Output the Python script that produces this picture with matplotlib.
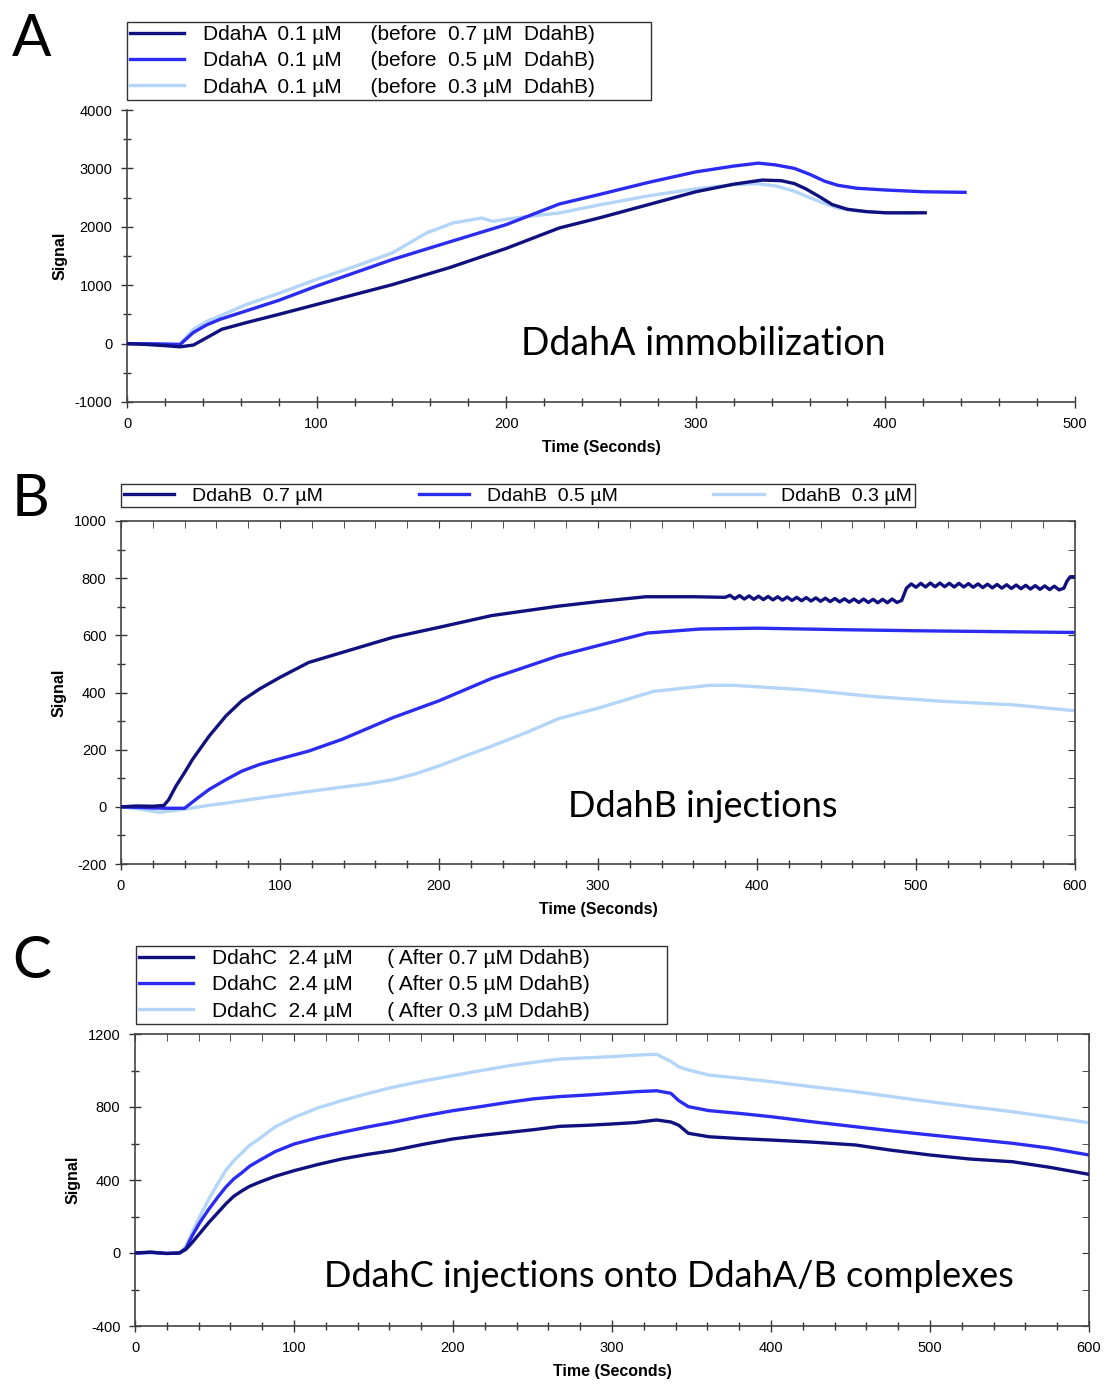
import numpy as np
import matplotlib
matplotlib.use("Agg")
import matplotlib.pyplot as plt
from matplotlib.ticker import MultipleLocator

plt.rcParams['font.family'] = ['Liberation Sans', 'DejaVu Sans']
plt.rcParams['axes.unicode_minus'] = False

DARK = "#10107e"
BLUE = "#2c2cf0"
LIGHT = "#b3d5f8"

# ---- panel A : DdahA immobilization
a_dark_t = [0, 10, 20, 28, 35, 42, 50, 63, 80, 100, 140, 170, 200, 228, 250, 275, 300, 320, 335, 345, 352, 358, 365, 372, 380, 390, 400, 410, 421]
a_dark_v = [0, -15, -35, -55, -25, 100, 245, 360, 500, 670, 1010, 1300, 1630, 1980, 2160, 2380, 2600, 2730, 2800, 2790, 2740, 2650, 2520, 2380, 2300, 2260, 2240, 2240, 2240]
a_blue_t = [0, 15, 28, 35, 42, 49, 60, 80, 100, 140, 170, 200, 228, 250, 275, 300, 320, 333, 342, 352, 360, 368, 375, 385, 400, 420, 442]
a_blue_v = [0, -5, -15, 190, 320, 415, 530, 740, 985, 1440, 1740, 2037, 2390, 2560, 2760, 2940, 3040, 3090, 3060, 3000, 2900, 2780, 2710, 2660, 2630, 2600, 2590]
a_light_t = [0, 15, 28, 35, 42, 49, 63, 80, 100, 120, 140, 158, 172, 180, 187, 193, 200, 215, 228, 250, 275, 300, 320, 332, 342, 352, 360, 368, 375, 385, 400, 415]
a_light_v = [0, -5, -10, 245, 380, 472, 670, 860, 1100, 1320, 1554, 1895, 2066, 2110, 2150, 2094, 2130, 2190, 2237, 2380, 2530, 2650, 2720, 2740, 2700, 2610, 2500, 2400, 2320, 2270, 2240, 2230]
a_labels = ["DdahA  0.1 µM     (before  0.7 µM  DdahB)",
            "DdahA  0.1 µM     (before  0.5 µM  DdahB)",
            "DdahA  0.1 µM     (before  0.3 µM  DdahB)"]

# ---- panel B : DdahB injections
b_dark_t = [0, 10, 20, 27, 30, 34.5, 40, 45, 55.5, 66, 76, 87, 100, 118, 139, 171, 200, 233, 275, 300, 330, 360, 380,
            383, 386, 389, 392, 395, 398, 401, 404, 407, 410, 413, 416, 419, 422, 425, 428, 431, 434, 437, 440, 443, 446,
            449, 452, 455, 458, 461, 464, 467, 470, 473, 476, 479, 482, 485, 488,
            491, 494, 497, 500, 503, 506, 509, 512, 515, 518, 521, 524, 527, 530, 533, 536, 539, 542, 545, 548, 551, 554,
            557, 560, 563, 566, 569, 572, 575, 578, 581, 584, 587, 590, 593, 595, 597, 600]
b_dark_v = [0, 3, 2, 5, 25, 72, 120, 166, 248, 318, 371, 412, 453, 505, 540, 593, 628, 669, 702, 718, 735, 735, 733,
            740, 728, 739, 727, 738, 726, 737, 725, 736, 724, 735, 723, 734, 722, 733, 721, 732, 720, 731, 719, 730, 718,
            729, 717, 728, 716, 727, 715, 727, 715, 726, 714, 726, 714, 727, 715,
            722, 765, 780, 768, 782, 769, 783, 770, 783, 770, 782, 769, 782, 769, 781, 768, 780, 767, 779, 766, 778, 765,
            777, 764, 776, 763, 775, 762, 774, 761, 773, 760, 772, 759, 765, 790, 805, 805]
b_blue_t = [0, 10, 20, 30, 40, 48, 55.5, 66, 76, 87, 100, 118, 139, 171, 200, 233, 275, 300, 331, 364, 400, 451, 500, 550, 600]
b_blue_v = [0, -2, -4, -5, -5, 30, 61, 95, 125, 148, 168, 195, 236, 312, 371, 449, 528, 564, 608, 622, 625, 620, 616, 613, 610]
b_light_t = [0, 12, 24, 35, 45, 55, 66, 83, 100, 120, 139, 155, 171, 185, 200, 215, 233, 255, 275, 300, 335, 370, 385, 429, 473, 517, 561, 600]
b_light_v = [0, -8, -19, -12, -4, 5, 13, 27, 40, 55, 69, 80, 95, 115, 143, 175, 212, 260, 308, 345, 404, 425, 425, 410, 386, 369, 357, 336]
b_labels = ["DdahB  0.7 µM", "DdahB  0.5 µM", "DdahB  0.3 µM"]

# ---- panel C : DdahC injections
c_t = [0, 10, 20, 28, 32, 36, 41, 46.5, 52, 57, 62, 67.5, 72, 78, 88, 100, 115, 130, 146, 162, 181, 200, 218, 235, 251,
       267, 285, 300, 315, 328, 337, 342, 348, 361, 380, 400, 425, 453, 475, 500, 525, 552, 575, 600]
c_dark_v = [0, 5, -3, 0, 20, 58, 110, 168, 220, 268, 310, 342, 365, 387, 420, 451, 485, 515, 540, 561, 595, 625, 645, 661, 676,
            694, 700, 707, 715, 729, 718, 700, 656, 637, 627, 619, 608, 592, 564, 537, 515, 500, 470, 431]
c_blue_v = [0, 3, -2, 0, 25, 95, 170, 241, 305, 360, 405, 442, 475, 506, 555, 597, 632, 661, 690, 716, 750, 780, 803, 826, 845,
            857, 866, 875, 884, 889, 875, 835, 802, 780, 765, 747, 720, 692, 670, 647, 625, 601, 575, 537]
c_light_v = [0, 3, -2, 0, 35, 113, 205, 296, 380, 451, 505, 551, 590, 625, 690, 743, 795, 835, 873, 908, 942, 972, 1000, 1026, 1045,
             1063, 1070, 1076, 1084, 1089, 1050, 1020, 1003, 975, 958, 939, 912, 884, 858, 829, 802, 774, 746, 714]
c_labels = ["DdahC  2.4 µM      ( After 0.7 µM DdahB)",
            "DdahC  2.4 µM      ( After 0.5 µM DdahB)",
            "DdahC  2.4 µM      ( After 0.3 µM DdahB)"]

W, H = 1107, 1385
fig = plt.figure(figsize=(W / 100, H / 100), dpi=100)


def px_axes(x0, y0, x1, y1):
    return fig.add_axes([x0 / W, 1 - y1 / H, (x1 - x0) / W, (y1 - y0) / H])


def style(ax, xmax, xmin_step, ymin, ymax, ystep, ymin_step, box):
    ax.set_xlim(0, xmax)
    ax.set_ylim(ymin, ymax)
    ax.xaxis.set_major_locator(MultipleLocator(100))
    ax.xaxis.set_minor_locator(MultipleLocator(xmin_step))
    ax.yaxis.set_major_locator(MultipleLocator(ystep))
    ax.yaxis.set_minor_locator(MultipleLocator(ymin_step))
    ax.tick_params(which='major', direction='inout', length=9, width=1, color='#333333', labelsize=10.5, pad=6)
    ax.tick_params(which='minor', direction='inout', length=6, width=1, color='#333333')
    for s in ax.spines.values():
        s.set_color('#444444')
        s.set_linewidth(1.2)
    if box:
        top = ax.secondary_xaxis('top')
        top.xaxis.set_major_locator(MultipleLocator(100))
        top.xaxis.set_minor_locator(MultipleLocator(xmin_step))
        top.tick_params(which='both', direction='in', length=5, color='#333333', labelsize=0)
        top.set_xticklabels([])
        top.spines['top'].set_visible(False)
        right = ax.secondary_yaxis('right')
        right.yaxis.set_major_locator(MultipleLocator(ystep))
        right.yaxis.set_minor_locator(MultipleLocator(ymin_step))
        right.tick_params(which='both', direction='in', length=5, color='#333333')
        right.set_yticklabels([])
        right.spines['right'].set_visible(False)
    else:
        ax.spines['top'].set_visible(False)
        ax.spines['right'].set_visible(False)
    ax.set_xlabel("Time (Seconds)", fontweight='bold', fontsize=11.5, labelpad=7)
    ax.set_ylabel("Signal", fontweight='bold', fontsize=11.5, labelpad=5)


def add_legend(handles, labels, x0, y0, x1, y1, ncol=1, fs=15, spacing=0.35):
    bb = (x0 / W, 1 - y1 / H, (x1 - x0) / W, (y1 - y0) / H)
    leg = fig.legend(handles, labels, loc='upper left', bbox_to_anchor=bb, ncol=ncol,
                     mode='expand', borderaxespad=0, fancybox=False,
                     edgecolor='#333333', framealpha=1, fontsize=fs, handlelength=2.6,
                     labelspacing=spacing, borderpad=0.15, handletextpad=0.9)
    leg.get_frame().set_linewidth(1.0)
    return leg


lw = 2.4
annot_font = ['Lato', 'DejaVu Sans']

# Panel A
axA = px_axes(127, 110, 1075, 402)
h1, = axA.plot(a_dark_t, a_dark_v, color=DARK, lw=lw, zorder=3)
h2, = axA.plot(a_blue_t, a_blue_v, color=BLUE, lw=lw, zorder=2)
h3, = axA.plot(a_light_t, a_light_v, color=LIGHT, lw=lw, zorder=1)
style(axA, 500, 20, -1000, 4000, 1000, 500, box=False)
axA.text(304, 0, "DdahA immobilization", fontsize=27, family=annot_font, ha='center', va='center')
add_legend([h1, h2, h3], a_labels, 127, 22, 651, 97)
fig.text(12 / W, 1 - 40 / H, "A", fontsize=42, family=annot_font, va='center', ha='left')

# Panel B
axB = px_axes(121, 521, 1075, 864)
g1, = axB.plot(b_dark_t, b_dark_v, color=DARK, lw=lw, zorder=3)
g2, = axB.plot(b_blue_t, b_blue_v, color=BLUE, lw=lw, zorder=2)
g3, = axB.plot(b_light_t, b_light_v, color=LIGHT, lw=lw, zorder=1)
style(axB, 600, 20, -200, 1000, 200, 100, box=True)
axB.text(366, 0, "DdahB injections", fontsize=26, family=annot_font, ha='center', va='center')
add_legend([g1, g2, g3], b_labels, 121, 484, 915, 509, ncol=3, fs=14)
fig.text(12 / W, 1 - 500 / H, "B", fontsize=42, family=annot_font, va='center', ha='left')

# Panel C
axC = px_axes(135, 1034, 1089, 1326)
k1, = axC.plot(c_t, c_dark_v, color=DARK, lw=lw, zorder=3)
k2, = axC.plot(c_t, c_blue_v, color=BLUE, lw=lw, zorder=2)
k3, = axC.plot(c_t, c_light_v, color=LIGHT, lw=lw, zorder=1)
style(axC, 600, 20, -400, 1200, 400, 200, box=True)
axC.text(336, -131, "DdahC injections onto DdahA/B complexes", fontsize=26, family=annot_font, ha='center', va='center')
add_legend([k1, k2, k3], c_labels, 136, 946, 667, 1022)
fig.text(12 / W, 1 - 962 / H, "C", fontsize=42, family=annot_font, va='center', ha='left')

fig.savefig("out.png", dpi=100)
